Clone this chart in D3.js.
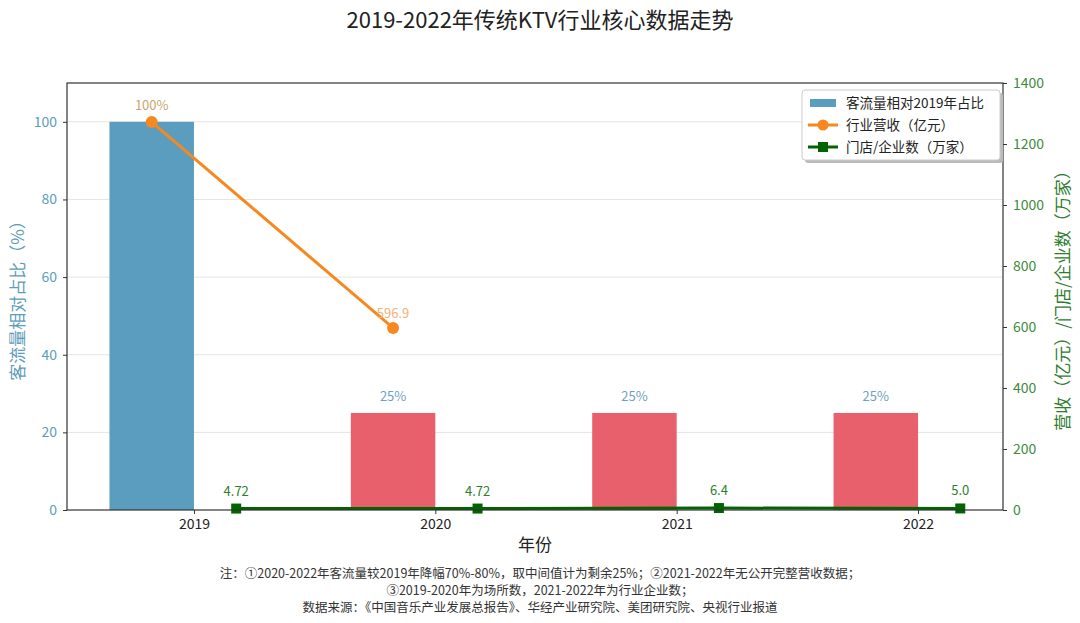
<!DOCTYPE html>
<html>
<head>
<meta charset="utf-8">
<script src="https://cdn.jsdelivr.net/npm/d3@7/dist/d3.min.js"></script>
<style>
  body { margin: 0; background: #fff; font-family: "Noto Sans CJK SC", "Noto Sans", sans-serif; }
  svg text { font-family: "Noto Sans CJK SC", "Noto Sans", sans-serif; }
</style>
</head>
<body>
<div id="chart"></div>
<script>
const years = ["2019", "2020", "2021", "2022"];
const trafficPct = [100, 25, 25, 25];
const trafficLabels = ["100%", "25%", "25%", "25%"];
const revenue = [1272, 596.9];          // 2021-2022 无数据
const revenueLabels = ["", "596.9"];
const stores = [4.72, 4.72, 6.4, 5.0];
const storeLabels = ["4.72", "4.72", "6.4", "5.0"];
const leftTicks = [0, 20, 40, 60, 80, 100];
const rightTicks = [0, 200, 400, 600, 800, 1000, 1200, 1400];
const notes = [
  "注：①2020-2022年客流量较2019年降幅70%-80%，取中间值计为剩余25%；②2021-2022年无公开完整营收数据；",
  "③2019-2020年为场所数，2021-2022年为行业企业数；",
  "数据来源：《中国音乐产业发展总报告》、华经产业研究院、美团研究院、央视行业报道"
];

const W = 1080, H = 623;
const m = { left: 67, right: 77, top: 83, bottom: 113 };
const iw = W - m.left - m.right, ih = H - m.top - m.bottom;
const barW = 0.35;

const svg = d3.select("#chart").append("svg").attr("width", W).attr("height", H);

svg.append("text")
  .attr("x", W / 2).attr("y", 28)
  .attr("text-anchor", "middle")
  .attr("font-size", 22).attr("fill", "#222")
  .text("2019-2022年传统KTV行业核心数据走势");

const g = svg.append("g").attr("transform", `translate(${m.left},${m.top})`);

const x = d3.scaleLinear().domain([-0.526, 3.352]).range([0, iw]);
const yL = d3.scaleLinear().domain([0, 110]).range([ih, 0]);
const yR = d3.scaleLinear().domain([0, 1400]).range([ih, 0]);

// 网格
g.selectAll(".grid").data(leftTicks.slice(1)).enter().append("line")
  .attr("x1", 0).attr("x2", iw)
  .attr("y1", d => yL(d)).attr("y2", d => yL(d))
  .attr("stroke", "#e4e4e4").attr("stroke-width", 1);

// 柱
g.selectAll(".bar").data(trafficPct).enter().append("rect")
  .attr("x", (d, i) => x(i - barW))
  .attr("width", x(barW) - x(0))
  .attr("y", d => yL(d))
  .attr("height", d => ih - yL(d))
  .attr("fill", (d, i) => i === 0 ? "#5a9dbf" : "#e8606b");

g.selectAll(".barlab").data(trafficPct).enter().append("text")
  .attr("x", (d, i) => x(i - barW / 2))
  .attr("y", d => yL(d) - 12)
  .attr("text-anchor", "middle")
  .attr("font-size", 13)
  .attr("fill", (d, i) => i === 0 ? "#c9a46e" : "#6f9fc2")
  .text((d, i) => trafficLabels[i]);

// 营收折线
const revLine = d3.line().x((d, i) => x(i - barW / 2)).y(d => yR(d));
g.append("path").datum(revenue)
  .attr("d", revLine)
  .attr("fill", "none").attr("stroke", "#f5891f").attr("stroke-width", 3);
g.selectAll(".revpt").data(revenue).enter().append("circle")
  .attr("cx", (d, i) => x(i - barW / 2)).attr("cy", d => yR(d))
  .attr("r", 6).attr("fill", "#f5891f");
g.selectAll(".revlab").data(revenue).enter().append("text")
  .attr("x", (d, i) => x(i - barW / 2))
  .attr("y", d => yR(d) - 10)
  .attr("text-anchor", "middle")
  .attr("font-size", 13).attr("fill", "#f2b27a")
  .text((d, i) => revenueLabels[i]);

// 门店折线
const stLine = d3.line().x((d, i) => x(i + barW / 2)).y(d => yR(d));
g.append("path").datum(stores)
  .attr("d", stLine)
  .attr("fill", "none").attr("stroke", "#006400").attr("stroke-width", 3);
g.selectAll(".stpt").data(stores).enter().append("rect")
  .attr("x", (d, i) => x(i + barW / 2) - 5).attr("y", d => yR(d) - 5)
  .attr("width", 10).attr("height", 10).attr("fill", "#006400");
g.selectAll(".stlab").data(stores).enter().append("text")
  .attr("x", (d, i) => x(i + barW / 2))
  .attr("y", d => yR(d) - 13)
  .attr("text-anchor", "middle")
  .attr("font-size", 13).attr("fill", "#2e7d2e")
  .text((d, i) => storeLabels[i]);

// 坐标轴
const axL = g.append("g").call(d3.axisLeft(yL).tickValues(leftTicks).tickSize(4).tickPadding(6));
axL.selectAll("text").attr("fill", "#5d9dba").attr("font-size", 14);
const axR = g.append("g").attr("transform", `translate(${iw},0)`)
  .call(d3.axisRight(yR).tickValues(rightTicks).tickFormat(d3.format("d")).tickSize(4).tickPadding(6));
axR.selectAll("text").attr("fill", "#3d8b3d").attr("font-size", 14);
const axB = g.append("g").attr("transform", `translate(0,${ih})`)
  .call(d3.axisBottom(x).tickValues([0, 1, 2, 3]).tickFormat(i => years[i]).tickSize(4).tickPadding(5));
axB.selectAll("text").attr("fill", "#222").attr("font-size", 14);
[axL, axR, axB].forEach(a => {
  a.select(".domain").remove();
  a.selectAll("line").attr("stroke", "#333");
});
g.append("rect").attr("width", iw).attr("height", ih)
  .attr("fill", "none").attr("stroke", "#333").attr("stroke-width", 1.2);

// 轴标题
svg.append("text")
  .attr("transform", `translate(24,${m.top + ih / 2}) rotate(-90)`)
  .attr("text-anchor", "middle").attr("font-size", 17).attr("fill", "#5d9dba")
  .text("客流量相对占比（%）");
svg.append("text")
  .attr("transform", `translate(1069,${m.top + ih / 2}) rotate(-90)`)
  .attr("text-anchor", "middle").attr("font-size", 17).attr("fill", "#2e7d2e")
  .text("营收（亿元）/门店/企业数（万家）");
svg.append("text")
  .attr("x", m.left + iw / 2).attr("y", 551)
  .attr("text-anchor", "middle").attr("font-size", 17).attr("fill", "#222")
  .text("年份");

// 图例
const lg = g.append("g").attr("transform", `translate(${iw - 201},7)`);
lg.append("rect").attr("x", 3).attr("y", 3).attr("width", 198).attr("height", 70)
  .attr("rx", 3).attr("fill", "#bbb");
lg.append("rect").attr("width", 198).attr("height", 70).attr("rx", 3)
  .attr("fill", "#fff").attr("stroke", "#ccc");
const items = [
  { label: "客流量相对2019年占比", type: "bar" },
  { label: "行业营收（亿元）", type: "rev" },
  { label: "门店/企业数（万家）", type: "store" }
];
items.forEach((it, i) => {
  const yy = 13 + i * 22;
  if (it.type === "bar") {
    lg.append("rect").attr("x", 8).attr("y", yy - 4).attr("width", 26).attr("height", 8).attr("fill", "#5a9dbf");
  } else {
    const c = it.type === "rev" ? "#f5891f" : "#006400";
    lg.append("line").attr("x1", 6).attr("x2", 36).attr("y1", yy).attr("y2", yy).attr("stroke", c).attr("stroke-width", 3);
    if (it.type === "rev") lg.append("circle").attr("cx", 21).attr("cy", yy).attr("r", 5.5).attr("fill", c);
    else lg.append("rect").attr("x", 16).attr("y", yy - 5).attr("width", 10).attr("height", 10).attr("fill", c);
  }
  lg.append("text").attr("x", 44).attr("y", yy + 4.5).attr("font-size", 13.5).attr("fill", "#222").text(it.label);
});

// 注释
svg.selectAll(".note").data(notes).enter().append("text")
  .attr("x", W / 2).attr("y", (d, i) => 578 + i * 17)
  .attr("text-anchor", "middle").attr("font-size", 12.5).attr("fill", "#333")
  .text(d => d);
</script>
</body>
</html>
